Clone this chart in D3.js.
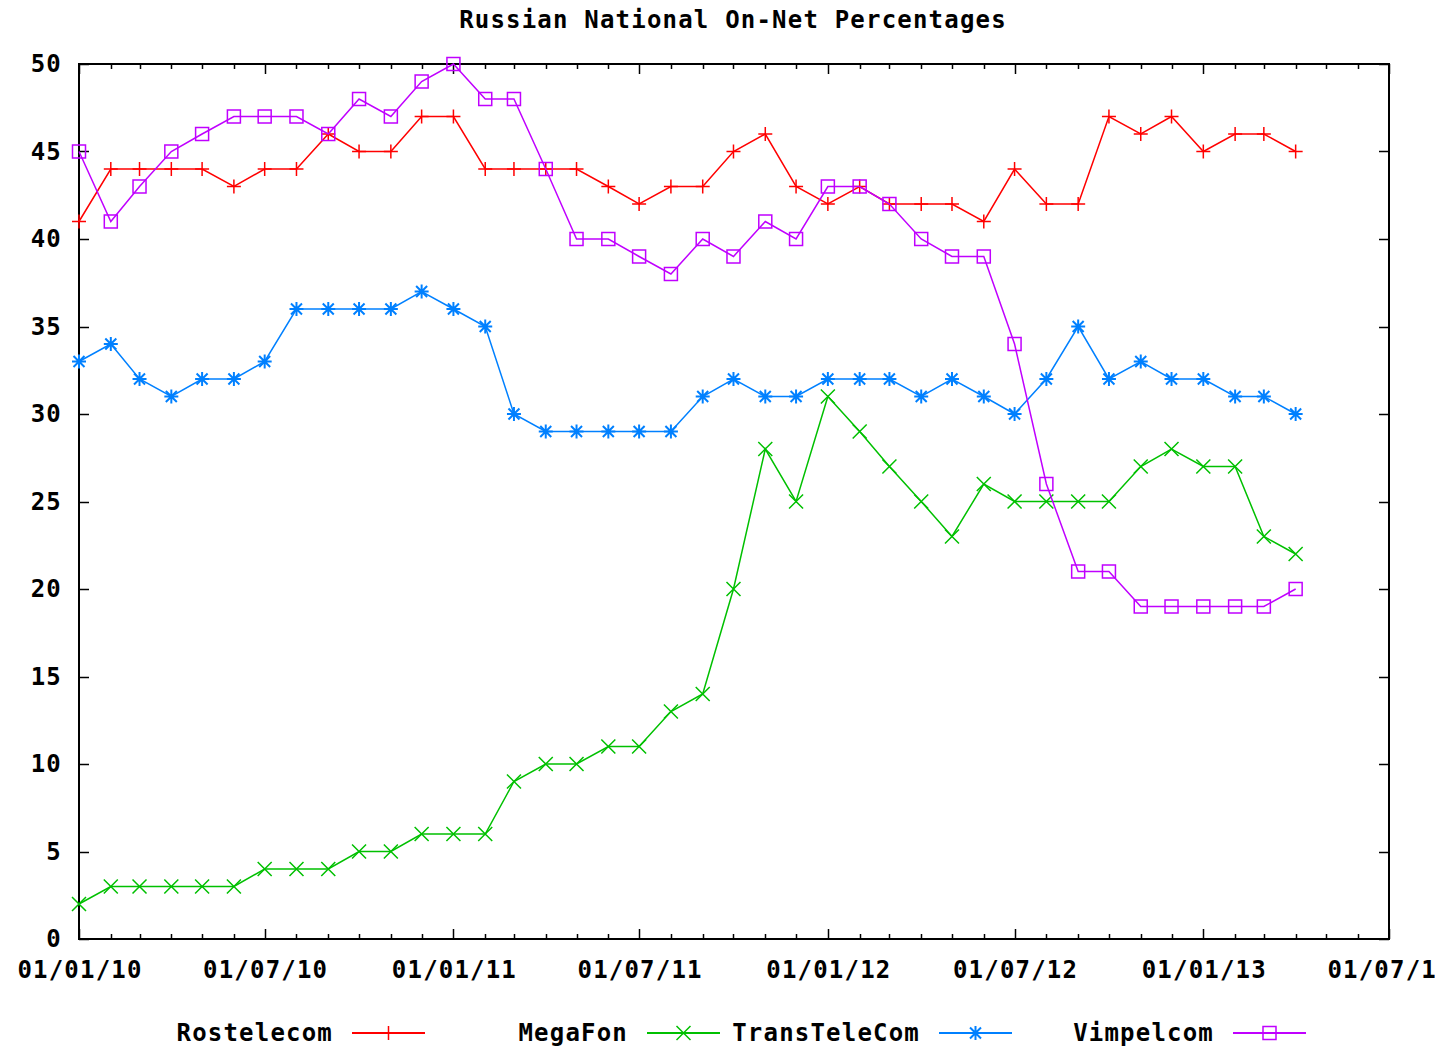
<!DOCTYPE html>
<html>
<head>
<meta charset="utf-8">
<script src="https://cdn.jsdelivr.net/npm/d3@7"></script>
<style>
  html, body { margin: 0; padding: 0; background: #fff; }
  svg text { font-family: "DejaVu Sans Mono", "Liberation Mono", monospace; font-weight: bold; font-size: 24px; letter-spacing: 1.2px; fill: #000; }
</style>
</head>
<body>
<svg id="chart" width="1435" height="1046"></svg>
<script>
// ---- Data ----
const months = [
  "2010-01","2010-02","2010-03","2010-04","2010-05","2010-06","2010-07","2010-08","2010-09","2010-10","2010-11","2010-12",
  "2011-01","2011-02","2011-03","2011-04","2011-05","2011-06","2011-07","2011-08","2011-09","2011-10","2011-11","2011-12",
  "2012-01","2012-02","2012-03","2012-04","2012-05","2012-06","2012-07","2012-08","2012-09","2012-10","2012-11","2012-12",
  "2013-01","2013-02","2013-03","2013-04"
];
const rostelecom = [41,44,44,44,44,43,44,44,46,45,45,47, 47,44,44,44,44,43,42,43,43,45,46,43, 42,43,42,42,42,41,44,42,42,47,46,47, 45,46,46,45];
const megafon    = [2,3,3,3,3,3,4,4,4,5,5,6, 6,6,9,10,10,11,11,13,14,20,28,25, 31,29,27,25,23,26,25,25,25,25,27,28, 27,27,23,22];
const transtelecom = [33,34,32,31,32,32,33,36,36,36,36,37, 36,35,30,29,29,29,29,29,31,32,31,31, 32,32,32,31,32,31,30,32,35,32,33,32, 32,31,31,30];
const vimpelcom  = [45,41,43,45,46,47,47,47,46,48,47,49, 50,48,48,44,40,40,39,38,40,39,41,40, 43,43,42,40,39,39,34,26,21,21,19,19, 19,19,19,20];
const seriesNames = ["Rostelecom","MegaFon","TransTeleCom","Vimpelcom"];
const yTicks = [0,5,10,15,20,25,30,35,40,45,50];
const xTickLabels = ["2010-01-01","2010-07-01","2011-01-01","2011-07-01","2012-01-01","2012-07-01","2013-01-01","2013-07-01"];
const titleText = "Russian National On-Net Percentages";

// ---- Layout ----
const W = 1435, H = 1046;
const L = 79, R = 1389, T = 64, B = 939;
const svg = d3.select("#chart");
const parseM = d3.timeParse("%Y-%m");
const parseD = d3.timeParse("%Y-%m-%d");
const fmt = d3.timeFormat("%d/%m/%y");

const x = d3.scaleTime().domain([parseD("2010-01-01"), parseD("2013-07-01")]).range([L, R]);
const y = d3.scaleLinear().domain([0, 50]).range([B, T]);

const colors = ["#ff0000", "#00c000", "#0080ff", "#c000ff"];
const allSeries = [rostelecom, megafon, transtelecom, vimpelcom];

// Title
svg.append("text").attr("x", 733).attr("y", 28).attr("text-anchor", "middle").text(titleText);

// Ticks
const axisG = svg.append("g").attr("stroke", "#000").attr("stroke-width", 1.5);
const majorDates = xTickLabels.map(parseD);
const minorDates = d3.timeMonth.range(parseD("2010-01-01"), parseD("2013-07-02"));
minorDates.forEach(d => {
  const isMajor = majorDates.some(m => +m === +d);
  const len = isMajor ? 10 : 5;
  const px = Math.round(x(d)) + 0.5;
  axisG.append("line").attr("x1", px).attr("x2", px).attr("y1", B).attr("y2", B - len);
  axisG.append("line").attr("x1", px).attr("x2", px).attr("y1", T).attr("y2", T + len);
});
yTicks.forEach(v => {
  const py = Math.round(y(v)) + 0.5;
  axisG.append("line").attr("x1", L).attr("x2", L + 10).attr("y1", py).attr("y2", py);
  axisG.append("line").attr("x1", R).attr("x2", R - 10).attr("y1", py).attr("y2", py);
});

// Frame
svg.append("rect").attr("x", L).attr("y", T).attr("width", R - L).attr("height", B - T)
  .attr("fill", "none").attr("stroke", "#000").attr("stroke-width", 2);

// Tick labels
yTicks.forEach(v => {
  svg.append("text").attr("x", 62).attr("y", y(v) + 8).attr("text-anchor", "end").text(v);
});
majorDates.forEach(d => {
  svg.append("text").attr("x", x(d) + 1).attr("y", 978).attr("text-anchor", "middle").text(fmt(d));
});

// Marker drawing
function marker(g, type, cx, cy, color) {
  const s = 7;
  const p = g.append("path").attr("fill", "none").attr("stroke", color).attr("stroke-width", 1.5);
  if (type === 0) {
    p.attr("d", `M${cx - s},${cy}H${cx + s}M${cx},${cy - s}V${cy + s}`);
  } else if (type === 1) {
    p.attr("d", `M${cx - s},${cy - s}L${cx + s},${cy + s}M${cx - s},${cy + s}L${cx + s},${cy - s}`);
  } else if (type === 2) {
    const t = 5.5;
    p.attr("d", `M${cx - s},${cy}H${cx + s}M${cx},${cy - s}V${cy + s}M${cx - t},${cy - t}L${cx + t},${cy + t}M${cx - t},${cy + t}L${cx + t},${cy - t}`)
     .attr("stroke-width", 2);
  } else {
    const q = 6.5;
    p.attr("d", `M${cx - q},${cy - q}H${cx + q}V${cy + q}H${cx - q}Z`);
  }
}

const line = d3.line().x(d => x(d.date)).y(d => y(d.v));
allSeries.forEach((vals, i) => {
  const pts = vals.map((v, j) => ({ date: parseM(months[j]), v }));
  const g = svg.append("g");
  g.append("path").datum(pts).attr("d", line).attr("fill", "none")
    .attr("stroke", colors[i]).attr("stroke-width", 1.5);
  pts.forEach(p => marker(g, i, x(p.date), y(p.v), colors[i]));
});

// Legend
const legendTextEnd = [333, 628, 920, 1214];
const legendY = 1033;
seriesNames.forEach((name, i) => {
  const te = legendTextEnd[i];
  svg.append("text").attr("x", te).attr("y", legendY + 8).attr("text-anchor", "end").text(name);
  const x0 = te + 19, x1 = te + 92;
  svg.append("line").attr("x1", x0).attr("x2", x1).attr("y1", legendY).attr("y2", legendY)
    .attr("stroke", colors[i]).attr("stroke-width", 2);
  marker(svg, i, (x0 + x1) / 2, legendY, colors[i]);
});
</script>
</body>
</html>
